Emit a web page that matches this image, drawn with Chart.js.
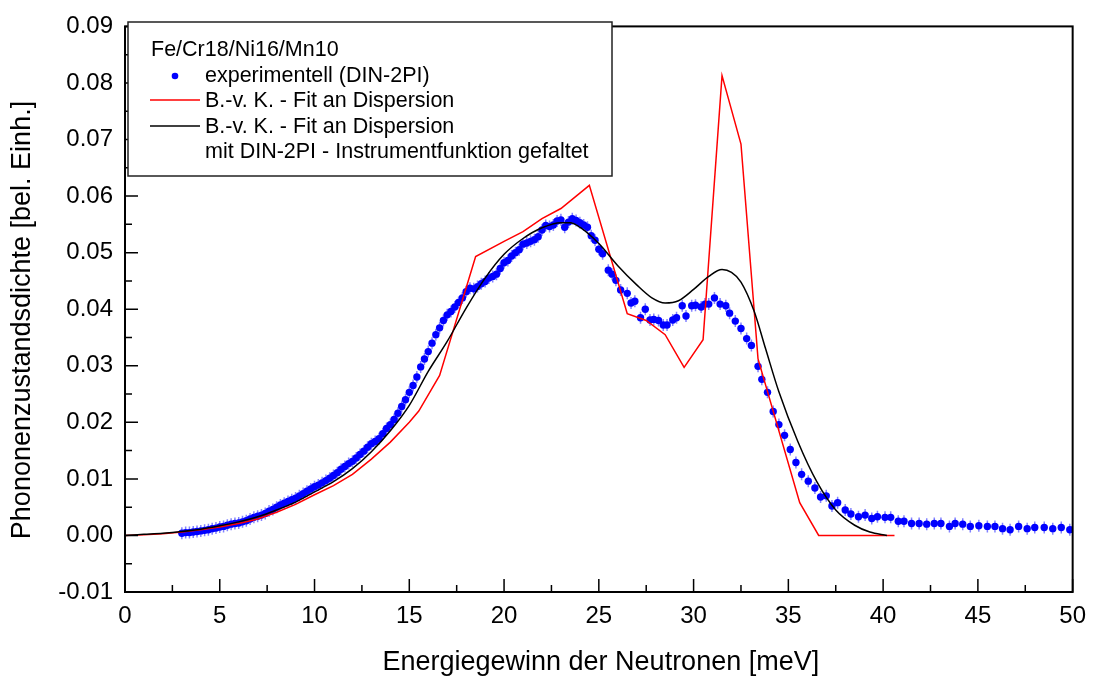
<!DOCTYPE html>
<html><head><meta charset="utf-8">
<script src="https://cdn.jsdelivr.net/npm/chart.js@4"></script>
<style>html,body{margin:0;padding:0;background:#fff}#wrap{width:1096px;height:680px;position:relative}</style>
</head><body><div id="wrap"><canvas id="c" width="1096" height="680"></canvas></div>
<script>
// ---- data ----
const expE = [3.0,3.2,3.4,3.6,3.8,4.0,4.2,4.4,4.6,4.8,5.0,5.2,5.4,5.6,5.8,6.0,6.2,6.4,6.6,6.8,7.0,7.2,7.4,7.6,7.8,8.0,8.2,8.4,8.6,8.8,9.0,9.2,9.4,9.6,9.8,10.0,10.2,10.4,10.6,10.8,11.0,11.2,11.4,11.6,11.8,12.0,12.2,12.4,12.6,12.8,13.0,13.2,13.4,13.6,13.8,14.0,14.2,14.4,14.6,14.8,15.0,15.2,15.4,15.6,15.8,16.0,16.2,16.4,16.6,16.8,17.0,17.2,17.4,17.6,17.8,18.0,18.2,18.4,18.6,18.8,19.0,19.2,19.4,19.6,19.8,20.0,20.2,20.4,20.6,20.8,21.0,21.2,21.4,21.6,21.8,22.0,22.2,22.4,22.6,22.8,23.0,23.2,23.4,23.6,23.8,24.0,24.2,24.4,24.6,24.8,25.0,25.2,25.5,25.7,25.9,26.15,26.5,26.7,26.9,27.2,27.45,27.7,27.9,28.15,28.4,28.6,28.9,29.1,29.4,29.6,29.9,30.1,30.4,30.6,30.8,31.1,31.4,31.7,31.9,32.2,32.5,32.8,33.05,33.4,33.6,33.9,34.2,34.5,34.8,35.1,35.4,35.7,36.05,36.4,36.7,37.0,37.3,37.6,38.0,38.3,38.7,39.05,39.4,39.7,40.1,40.4,40.8,41.1,41.5,41.9,42.3,42.7,43.05,43.5,43.8,44.2,44.6,45.05,45.5,45.9,46.3,46.7,47.15,47.6,48.0,48.5,48.95,49.4,49.85];
const expY = [0.0004,0.0005,0.0005,0.0006,0.0007,0.0008,0.0009,0.0010,0.0012,0.0013,0.0015,0.0016,0.0018,0.0020,0.0021,0.0022,0.0024,0.0026,0.0029,0.0032,0.0034,0.0036,0.0039,0.0043,0.0046,0.0050,0.0054,0.0057,0.0060,0.0063,0.0066,0.0070,0.0074,0.0078,0.0082,0.0086,0.0089,0.0093,0.0097,0.0101,0.0106,0.0111,0.0117,0.0122,0.0127,0.0131,0.0137,0.0143,0.0149,0.0156,0.0162,0.0166,0.0171,0.0180,0.0189,0.0196,0.0205,0.0216,0.0228,0.0240,0.0253,0.0265,0.0280,0.0298,0.0312,0.0325,0.0340,0.0355,0.0367,0.0380,0.0390,0.0396,0.0404,0.0412,0.0420,0.0431,0.0437,0.0436,0.0440,0.0445,0.0449,0.0455,0.0458,0.0462,0.0472,0.0482,0.0486,0.0494,0.0500,0.0505,0.0515,0.0517,0.0520,0.0523,0.0528,0.0540,0.0548,0.0546,0.0549,0.0556,0.0558,0.0545,0.0554,0.0560,0.0557,0.0553,0.0549,0.0545,0.0530,0.0522,0.0506,0.0498,0.0469,0.0462,0.0451,0.0434,0.0428,0.0411,0.0414,0.0385,0.0400,0.0381,0.0382,0.0380,0.0372,0.0372,0.0381,0.0385,0.0406,0.0388,0.0406,0.0407,0.0404,0.0409,0.0409,0.0420,0.0409,0.0406,0.0393,0.0379,0.0366,0.0348,0.0336,0.0299,0.0276,0.0253,0.0219,0.0196,0.0177,0.0152,0.0129,0.0108,0.0096,0.0084,0.0068,0.0070,0.0052,0.0058,0.0045,0.0038,0.0033,0.0036,0.0030,0.0033,0.0032,0.0032,0.0025,0.0025,0.0021,0.0021,0.0020,0.0021,0.0021,0.0016,0.0021,0.0020,0.0016,0.0017,0.0016,0.0016,0.0012,0.0010,0.0016,0.0012,0.0014,0.0014,0.0012,0.0014,0.0010];

const fitE = [0,1,2,3,4,5,6,7,8,9,10,11,12,13,14,15,15.5,16.6,18.5,20,21,22,23,24.5,26.5,27.5,28.5,29.5,30.5,31.5,32.5,33.4,35.6,36.6,40.6];
const fitY = [0,0.0001,0.0003,0.0006,0.0010,0.0015,0.0021,0.0029,0.0041,0.0055,0.0072,0.0088,0.0108,0.0135,0.0165,0.0200,0.0220,0.0283,0.0493,0.0520,0.0537,0.0560,0.0578,0.0619,0.0392,0.0380,0.0355,0.0297,0.0346,0.0813,0.0692,0.0312,0.0058,0.0,0.0];

const convE = [0,1,2,3,4,5,6,7,8,9,10,11,12,13,14,15,16,17,18,19,20,21,22,23,23.5,24,25,26,27,27.8,28.5,29.2,30,30.8,31.5,32,32.5,33.2,33.8,34.5,35.5,36.5,37.5,38.5,39.3,40.2];
const convY = [0,0.0002,0.0004,0.0007,0.0011,0.0017,0.0024,0.0033,0.0045,0.0059,0.0077,0.0095,0.0118,0.0148,0.0185,0.0230,0.0290,0.0343,0.0402,0.0455,0.0497,0.0525,0.0544,0.0553,0.0553,0.0545,0.0516,0.0477,0.0443,0.0420,0.0411,0.0415,0.0435,0.0458,0.0470,0.0465,0.0448,0.0396,0.0330,0.0254,0.0166,0.0095,0.0045,0.0018,0.0006,0.0];

const xTicks = [0,5,10,15,20,25,30,35,40,45,50];
const yTicks = [-0.01,0.00,0.01,0.02,0.03,0.04,0.05,0.06,0.07,0.08,0.09];
const xTitle = 'Energiegewinn der Neutronen [meV]';
const yTitle = 'Phononenzustandsdichte [bel. Einh.]';
const legendTitle = 'Fe/Cr18/Ni16/Mn10';
const seriesNames = ['experimentell (DIN-2PI)','B.-v. K. - Fit an Dispersion','B.-v. K. - Fit an Dispersion'];
const legendExtra = 'mit DIN-2PI - Instrumentfunktion gefaltet';

const FONT = '"Liberation Sans", Arial, sans-serif';
const toPts = (xs, ys) => xs.map((x, i) => ({x: x, y: ys[i]}));

const decor = {
  id: 'decor',
  beforeDatasetDraw(chart, args) {
    if (args.index !== 0) return;
    const ctx = chart.ctx;
    ctx.save();
    ctx.strokeStyle = 'rgba(90,90,255,0.75)';
    ctx.lineWidth = 1.5;
    ctx.beginPath();
    args.meta.data.forEach(p => { ctx.moveTo(p.x, p.y - 6); ctx.lineTo(p.x, p.y + 6); });
    ctx.stroke();
    ctx.restore();
  },
  afterDraw(chart) {
    const ctx = chart.ctx, ca = chart.chartArea;
    const xs = chart.scales.x, ys = chart.scales.y;
    ctx.save();
    // frame
    ctx.strokeStyle = '#000';
    ctx.lineWidth = 2;
    ctx.strokeRect(ca.left, ca.top, ca.right - ca.left, ca.bottom - ca.top);
    // ticks (inward)
    ctx.lineWidth = 1.5;
    ctx.beginPath();
    for (let i = 0; i < yTicks.length; i++) {
      const y = ys.getPixelForValue(yTicks[i]);
      ctx.moveTo(ca.left, y); ctx.lineTo(ca.left + 13, y);
      if (i < yTicks.length - 1) {
        const ym = (y + ys.getPixelForValue(yTicks[i + 1])) / 2;
        ctx.moveTo(ca.left, ym); ctx.lineTo(ca.left + 7, ym);
      }
    }
    for (let i = 0; i < xTicks.length; i++) {
      const x = xs.getPixelForValue(xTicks[i]);
      ctx.moveTo(x, ca.bottom); ctx.lineTo(x, ca.bottom - 13);
      if (i < xTicks.length - 1) {
        const xm = (x + xs.getPixelForValue(xTicks[i + 1])) / 2;
        ctx.moveTo(xm, ca.bottom); ctx.lineTo(xm, ca.bottom - 7);
      }
    }
    ctx.stroke();
    // axis titles
    ctx.fillStyle = '#000';
    ctx.font = '27px ' + FONT;
    ctx.textAlign = 'center';
    ctx.textBaseline = 'middle';
    ctx.fillText(xTitle, (ca.left + ca.right) / 2 + 2, 663);
    ctx.save();
    ctx.translate(23, 320);
    ctx.rotate(-Math.PI / 2);
    ctx.fillText(yTitle, 0, 0);
    ctx.restore();
    // legend box
    ctx.fillStyle = '#fff';
    ctx.fillRect(128, 22, 484, 154);
    ctx.strokeStyle = '#222';
    ctx.lineWidth = 1.5;
    ctx.strokeRect(128, 22, 484, 154);
    ctx.fillStyle = '#000';
    ctx.font = '21.5px ' + FONT;
    ctx.textAlign = 'left';
    ctx.textBaseline = 'middle';
    ctx.fillText(legendTitle, 151, 50);
    ctx.fillStyle = '#0000ff';
    ctx.beginPath(); ctx.arc(175, 76, 3.3, 0, Math.PI * 2); ctx.fill();
    ctx.fillStyle = '#000';
    ctx.fillText(seriesNames[0], 205, 76);
    ctx.strokeStyle = '#ff0000'; ctx.lineWidth = 1.5;
    ctx.beginPath(); ctx.moveTo(150, 100); ctx.lineTo(200, 100); ctx.stroke();
    ctx.fillText(seriesNames[1], 205, 101);
    ctx.strokeStyle = '#000';
    ctx.beginPath(); ctx.moveTo(150, 126); ctx.lineTo(200, 126); ctx.stroke();
    ctx.fillText(seriesNames[2], 205, 127);
    ctx.fillText(legendExtra, 205, 152);
    ctx.restore();
  }
};

new Chart(document.getElementById('c'), {
  type: 'scatter',
  data: {
    datasets: [
      { label: seriesNames[0], data: toPts(expE, expY), showLine: false, pointRadius: 3.7,
        pointBackgroundColor: '#0000ff', pointBorderWidth: 0, order: 3 },
      { label: seriesNames[1], data: toPts(fitE, fitY), showLine: true, pointRadius: 0,
        borderColor: '#ff0000', borderWidth: 1.5, tension: 0, order: 2 },
      { label: seriesNames[2], data: toPts(convE, convY), showLine: true, pointRadius: 0,
        borderColor: '#000000', borderWidth: 1.5, cubicInterpolationMode: 'monotone', order: 1 }
    ]
  },
  options: {
    responsive: false, animation: false, devicePixelRatio: 1,
    layout: { padding: { top: 15, right: 20, left: 0, bottom: 0 } },
    plugins: { legend: { display: false }, tooltip: { enabled: false } },
    scales: {
      x: {
        type: 'linear', min: 0, max: 50,
        afterBuildTicks: s => { s.ticks = xTicks.map(v => ({ value: v })); },
        afterFit: s => { s.height = 88; },
        ticks: { color: '#000', font: { size: 24, family: FONT }, padding: 10, maxRotation: 0, autoSkip: false,
                 callback: v => String(v) },
        grid: { display: false, drawTicks: false },
        border: { display: false }
      },
      y: {
        type: 'linear', min: -0.01, max: 0.09,
        afterBuildTicks: s => { s.ticks = yTicks.map(v => ({ value: v })); },
        afterFit: s => { s.width = 125; },
        ticks: { color: '#000', font: { size: 24, family: FONT }, padding: 12, autoSkip: false,
                 callback: v => v.toFixed(2) },
        grid: { display: false, drawTicks: false },
        border: { display: false }
      }
    }
  },
  plugins: [decor]
});
</script></body></html>
